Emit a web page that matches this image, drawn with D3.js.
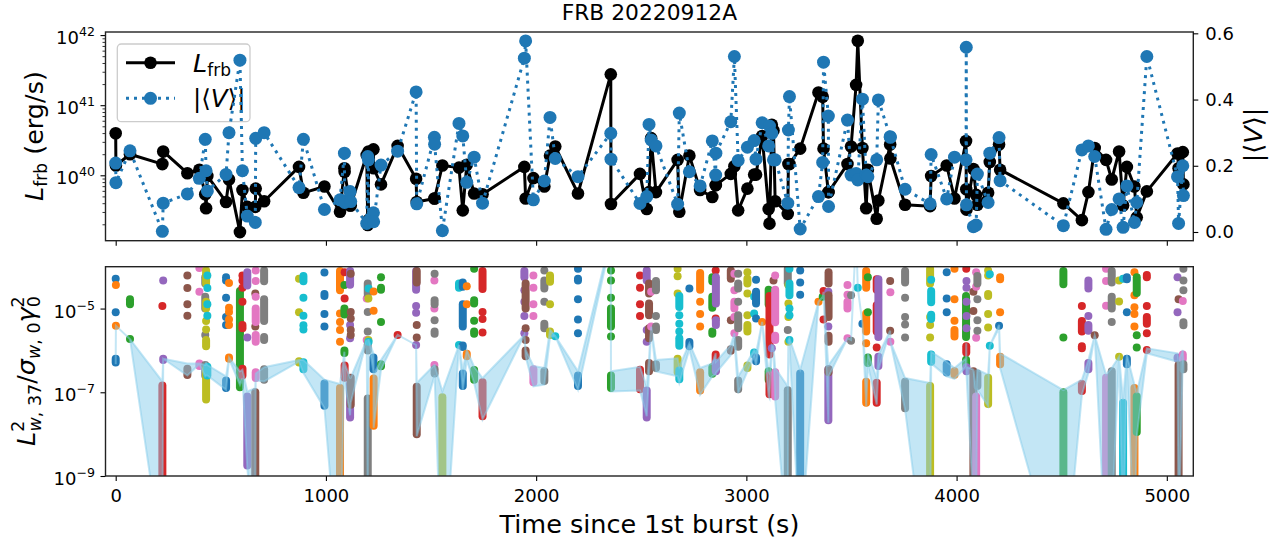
<!DOCTYPE html>
<html>
<head>
    <meta charset="utf-8">
    <title>FRB 20220912A</title>
    <script src="https://d3js.org/d3.v7.min.js"></script>
    <style>
        html, body { margin: 0; padding: 0; background: #fff; }
        svg { display: block; }
        text { font-family: "DejaVu Sans", sans-serif; fill: #000; }
        .tick text { font-size: 18px; }
        .tick line { stroke: #000; stroke-width: 1.1px; }
        .spine { fill: none; stroke: #222; stroke-width: 1.4px; }
    </style>
</head>
<body>
    <div id="chart"></div>

    <script>
        // one entry per burst, in time order (seconds since the first burst)
        const burstTimes = [
            0, 1, 68, 222, 226, 341, 398, 426, 430, 436,
            525, 539, 591, 603, 626, 664, 666, 706, 872, 893,
            993, 1067, 1088, 1089, 1115, 1118, 1194, 1199, 1202, 1203,
            1226, 1227, 1262, 1341, 1429, 1432, 1516, 1517, 1554, 1633,
            1651, 1670, 1705, 1745, 1944, 1950, 1987, 2039, 2066, 2091,
            2199, 2355, 2356, 2494, 2526, 2537, 2547, 2570, 2673, 2681,
            2729, 2780, 2838, 2854, 2855, 2926, 2943, 2961, 3005, 3037,
            3046, 3075, 3106, 3110, 3121, 3129, 3137, 3197, 3200, 3205,
            3256, 3343, 3363, 3367, 3390, 3391, 3481, 3498, 3522, 3530,
            3552, 3570, 3578, 3620, 3628, 3684, 3685, 3755, 3874, 3879,
            3953, 3990, 4045, 4046, 4047, 4080, 4093, 4099, 4150, 4158,
            4202, 4207, 4508, 4596, 4627, 4657, 4711, 4738, 4773, 4792,
            4810, 4846, 4857, 4905, 5051, 5056, 5076, 5079
        ];

        // log10 of L_frb in erg/s
        const logLfrb = [
            40.60, 40.14, 40.30, 40.16, 40.34, 40.03, 40.08, 39.73, 39.53, 39.99,
            39.62, 39.94, 39.19, 39.79, 39.55, 39.55, 39.81, 39.63, 40.12, 39.75,
            39.84, 39.48, 40.10, 40.05, 39.57, 39.57, 40.29, 39.29, 39.36, 40.34,
            40.37, 40.10, 39.87, 40.42, 39.95, 39.62, 39.67, 39.67, 40.14, 40.11,
            39.50, 40.15, 39.74, 39.73, 40.12, 39.67, 39.96, 39.84, 40.28, 40.41,
            39.74, 41.44, 39.59, 40.02, 39.52, 39.76, 40.53, 39.76, 40.22, 39.48,
            40.28, 39.79, 39.69, 39.86, 39.86, 40.02, 40.13, 39.50, 39.81, 40.01,
            40.01, 40.56, 39.52, 39.31, 40.72, 40.64, 39.63, 39.45, 40.16, 40.16,
            40.38, 41.18, 41.12, 40.38, 39.76, 39.76, 40.16, 40.41, 41.29, 41.92,
            40.39, 39.53, 40.08, 39.38, 39.64, 40.44, 40.24, 39.58, 39.56, 39.99,
            40.14, 39.67, 40.49, 39.80, 39.51, 40.09, 39.72, 39.58, 39.75, 40.19,
            40.44, 40.08, 39.60, 39.36, 39.76, 40.39, 40.22, 39.94, 40.34, 39.57,
            40.12, 39.84, 39.40, 39.77, 40.31, 40.10, 40.33, 39.87
        ];

        const absV = [
            .208, .149, .245, .002, .087, .115, .162, .280, .185, .124,
            .174, .300, .519, .185, .048, .029, .283, .300, .134, .280,
            .068, .097, .238, .089, .122, .092, .026, .228, .218, .033,
            .058, .031, .202, .244, .423, .085, .286, .265, .004, .328,
            .290, .150, .226, .087, .525, .577, .097, .154, .346, .222,
            .167, .298, .220, .086, .107, .325, .278, .260, .084, .359,
            .182, .139, .275, .172, .238, .333, .530, .216, .256, .276,
            .220, .330, .260, .320, .298, .218, .218, .087, .308, .409,
            .009, .107, .210, .513, .350, .077, .338, .172, .177, .157,
            .401, .172, .167, .218, .399, .288, .286, .129, .085, .234,
            .100, .226, .218, .558, .082, .016, .021, .175, .089, .238,
            .285, .155, .019, .248, .260, .228, .008, .068, .100, .014,
            .139, .029, .089, .530, .167, .026, .200, .110
        ];

        // log10 of L^2/sigma gamma^2 per burst: a number is one dot, a pair is a dense run of dots
        const burstLevels = [
            [-4.29, -5.09, [-6.20, -6.29]],
            [-4.44, -5.41],
            [[-4.78, -4.90], -5.73],
            [-4.94, [-6.84, -9.5]],
            [-4.33, [-6.20, -6.23]],
            [-4.21, -4.51, -4.90, -5.17, [-6.44, -6.59]],
            [-4.03, -4.60, [-6.31, -6.37]],
            [[-4.25, -4.40], [-4.72, -5.00], -5.63, [-6.35, -6.60]],
            [[-4.09, -4.40], [-4.84, -5.00], -5.30, -5.50, [-5.75, -5.90], [-6.45, -7.17]],
            [-4.21, -4.51, -4.90, -5.17, [-6.39, -6.60]],
            [-4.25, -4.33, -4.74, -5.20, -5.39, [-6.72, -6.90]],
            [-4.39, -4.98, -5.08, -5.26, -5.39, [-6.17, -6.20]],
            [[-4.58, -6.88]],
            [-4.21, -4.33, -4.50, -4.84, [-5.39, -5.47], [-6.44, -6.60]],
            [[-4.13, -4.45], -5.69, [-7.10, -8.75]],
            [-4.64, -5.43, [-7.00, -9.5]],
            [-4.09, -4.34, -4.72, [-5.00, -5.32], [-5.63, -5.79], [-6.52, -6.66]],
            [[-4.09, -4.35], [-4.78, -5.30], [-5.68, -5.75], [-6.45, -6.70]],
            [-4.29, -5.09, [-6.26, -6.29]],
            [[-4.22, -4.35], -4.74, -5.17, -5.40, -5.50, [-6.28, -6.45]],
            [-4.14, [-4.65, -4.70], -5.13, -5.43, [-6.79, -7.32]],
            [[-4.10, -4.56], -5.12, -5.32, -5.51, -5.79, [-6.90, -9.5]],
            [-4.44, [-5.00, -5.14], [-6.00, -6.06]],
            [-4.13, -4.76, [-6.36, -6.65]],
            [[-4.10, -4.43], -5.39, -5.71, [-6.80, -7.60]],
            [-4.17, -5.08, -5.24, -5.51, -5.63, [-6.65, -7.30]],
            [-4.76, -5.75],
            [[-4.40, -4.65], -5.08, -5.55, [-5.85, -6.00], [-7.15, -9.5]],
            [-4.76, -5.75],
            [-4.52, -5.79],
            [[-6.17, -6.45]],
            [-4.59, -5.05, [-6.67, -7.80]],
            [-4.25, [-4.50, -4.55], -5.32, [-6.33, -6.38]],
            [-5.63],
            [[-4.10, -4.55], -4.94, -5.10, -5.87],
            [[-4.10, -4.38], -5.39, -5.69, [-6.87, -8.00]],
            [-4.33, -5.00, -6.35],
            [-4.17, [-4.80, -4.90], -5.28, [-5.55, -5.60], [-6.45, -6.55]],
            [[-7.12, -9.5]],
            [[-4.40, -4.50], -5.87],
            [[-4.38, -4.48], [-4.90, -5.43], [-5.88, -5.92], [-6.55, -6.85]],
            [-4.47, -4.90, [-6.08, -6.14]],
            [-4.05, [-4.80, -4.88], -5.29, [-5.55, -5.60], [-6.47, -6.70]],
            [[-4.10, -4.53], -5.08, -5.25, -5.57, [-6.76, -7.57]],
            [[-4.10, -4.25], -4.56, -4.84, -5.18, -5.59],
            [[-4.40, -5.00], -5.47, -5.75, [-6.00, -6.14]],
            [-4.21, -4.50, -4.90, -5.18, [-6.45, -6.76]],
            [-4.09, [-4.33, -4.52], -4.84, [-5.36, -5.47], [-6.50, -6.73]],
            [[-4.21, -4.36], -4.90, [-5.55, -5.63]],
            [-5.66],
            [-4.05, -4.29, -4.33, -4.78, -5.26, -5.59, [-6.60, -6.85]],
            [],
            [-4.09, -4.33, -4.74, [-5.00, -5.43], -5.67, [-6.60, -6.90]],
            [-4.21, -4.50, -4.90, -5.18, [-6.46, -6.93]],
            [[-4.09, -4.33], -5.51, -5.79, [-6.96, -7.60]],
            [[-4.40, -4.64], [-4.88, -5.16], [-5.47, -5.71], [-6.30, -6.50]],
            [-4.60, -5.43],
            [[-4.34, -4.56], -5.18, [-5.43, -5.51], [-6.33, -6.42]],
            [-4.05, -4.23, -4.64, [-6.20, -6.52]],
            [[-4.70, -4.96], -5.16, -5.36, -5.55, [-5.71, -5.89], [-6.48, -6.69]],
            [-4.52, [-5.80, -5.90]],
            [[-4.15, -4.55], -4.84, -5.13, -5.43, [-6.52, -6.96]],
            [[-4.25, -4.35], [-4.72, -4.98], [-5.55, -5.60], [-6.40, -6.56]],
            [-4.09, -5.24, [-6.10, -6.48]],
            [[-4.25, -4.88], [-5.28, -5.39], [-6.30, -6.50]],
            [[-4.09, -4.29], -5.28, [-5.97, -6.01]],
            [-4.17, -4.56, [-4.84, -5.00], -5.20, -5.59],
            [-4.17, [-4.40, -4.52], -4.84, [-5.16, -5.47], [-5.75, -5.91], [-6.72, -6.93]],
            [-4.13, [-4.29, -4.40], -4.64, -5.16, [-5.39, -5.55], [-6.36, -6.42]],
            [-4.72, -5.12, [-6.05, -6.10]],
            [-4.31, [-4.60, -4.88], -5.24, [-6.17, -6.26]],
            [-5.32],
            [[-4.55, -4.90], [-6.50, -6.70]],
            [[-4.70, -6.10], [-6.60, -7.05]],
            [-5.95],
            [-4.33],
            [-4.21, [-4.55, -5.33], [-5.65, -5.75], [-6.52, -7.10]],
            [[-4.05, -4.40], -5.51, [-6.95, -9.5]],
            [-4.44, -4.88, -5.20, -5.79],
            [-4.05, [-4.40, -4.68], -5.00, -5.16, -5.75],
            [-4.09, -4.38, -4.67, [-6.55, -9.5]],
            [-4.84],
            [-4.72],
            [-4.58, -5.26],
            [-4.60, -5.43, [-6.45, -7.67]],
            [[-4.13, -4.40], [-4.68, -5.20], [-5.65, -5.79], [-6.45, -6.52]],
            [-4.44, -4.67, [-4.84, -5.00], -5.71],
            [-4.68, -5.77],
            [],
            [-4.50],
            [-5.36],
            [[-4.10, -4.50], [-5.12, -5.55], -5.83, [-6.75, -7.25]],
            [-4.25, -5.09, [-6.17, -6.30]],
            [[-4.30, -4.55], [-4.92, -5.55], -5.93, [-6.77, -7.25]],
            [[-4.30, -5.68], [-6.15, -6.37]],
            [-4.34, -5.53],
            [-4.61, -5.79],
            [[-4.10, -4.38], -4.74, -5.20, -5.38, -5.69, [-6.75, -7.38]],
            [[-4.05, -4.40], -5.20, -5.39, -5.69, [-6.85, -9.5]],
            [-4.31, [-4.58, -4.85], [-5.15, -5.25], [-6.10, -6.27]],
            [-4.13, -4.76, -5.09, [-6.33, -6.53]],
            [-4.05, -4.78, -5.29, [-5.51, -5.67], [-6.50, -6.58]],
            [[-4.70, -5.68], [-6.22, -6.35]],
            [-4.05, [-5.90, -6.05]],
            [-4.34, -4.50, -4.84, -5.18, -5.47, [-6.40, -6.50]],
            [-4.60, -5.06, [-6.50, -9.5]],
            [-4.13, -4.48, -5.70, [-7.10, -9.5]],
            [[-4.22, -4.40], -4.78, -5.28, -5.53, [-6.55, -6.85]],
            [-4.09, -4.21, [-4.65, -4.70], -5.13, -5.45, [-6.65, -7.28]],
            [-4.18, -5.89],
            [-5.41],
            [[-4.25, -4.30], -5.09, [-6.15, -6.33]],
            [[-4.10, -4.42], -5.69, [-7.00, -9.5]],
            [-4.94, [-5.30, -5.55], [-5.90, -5.95], [-6.80, -6.97]],
            [[-4.33, -4.52], -5.18, [-5.39, -5.53], [-6.30, -6.45]],
            [-5.64],
            [-4.05, -4.34, -4.93, [-6.65, -9.5]],
            [[-4.10, -4.38], [-4.72, -5.00], -5.32, [-6.50, -9.5]],
            [-4.33, -4.83, -6.15],
            [-4.29, [-7.25, -9.5]],
            [[-4.25, -4.30], -5.09, [-6.20, -6.33]],
            [-4.13, -4.68, -4.97, -5.13, -5.43, [-6.90, -9.5]],
            [[-4.25, -4.63], -5.64, -5.93, [-7.10, -7.95]],
            [[-4.20, -4.25], -4.94, [-5.20, -5.36], -5.59, -5.99],
            [-4.25, -5.09, [-6.17, -6.20]],
            [-4.78, [-6.35, -9.5]],
            [-4.82, [-6.10, -6.20]],
            [-4.05, -4.33, -4.56, [-5.33, -5.40], [-6.33, -6.45]]
        ];

        // upper and lower edge of the shaded band, log10
        const bandHigh = [
            -6.25, -5.41, -5.73, -6.74, -6.20, -6.31, -6.31, -6.35, -6.30, -6.35,
            -6.62, -6.17, -6.50, -6.46, -6.98, -6.90, -6.55, -6.40, -6.23, -6.23,
            -6.70, -6.80, -6.03, -6.30, -6.65, -6.65, -5.75, -7.10, -5.75, -5.75,
            -6.07, -6.58, -6.23, -5.63, -5.87, -6.78, -6.35, -6.35, -6.98, -5.87,
            -6.46, -5.99, -6.39, -6.66, -5.63, -5.99, -6.37, -6.42, -5.51, -5.66,
            -6.50, -3.30, -6.50, -6.39, -6.86, -6.19, -5.43, -6.23, -6.19, -6.39,
            -5.83, -6.42, -6.31, -6.07, -6.27, -5.87, -5.59, -6.62, -6.27, -5.99,
            -6.07, -5.32, -6.50, -6.54, -5.87, -5.90, -6.42, -6.86, -5.75, -5.71,
            -6.46, -4.84, -4.72, -4.60, -6.39, -6.35, -5.71, -5.75, -3.20, -4.50,
            -5.36, -6.66, -6.07, -6.66, -6.11, -5.53, -5.79, -6.66, -6.78, -6.03,
            -6.27, -6.42, -6.19, -5.83, -6.39, -6.46, -7.02, -6.46, -6.58, -5.89,
            -5.39, -6.07, -6.95, -6.70, -6.23, -5.64, -6.58, -6.42, -6.15, -7.18,
            -6.11, -6.82, -7.02, -5.95, -6.07, -6.27, -5.99, -6.23
        ];
        const bandLow = [
            -6.33, -5.41, -5.73, -11.0, -6.20, -6.60, -6.33, -6.62, -6.60, -6.60,
            -6.94, -6.20, -6.82, -6.66, -8.80, -11.0, -6.72, -6.74, -6.27, -6.54,
            -7.38, -11.8, -6.07, -6.74, -7.55, -7.25, -5.75, -9.80, -5.75, -5.80,
            -6.50, -7.85, -6.46, -5.63, -5.87, -8.05, -6.62, -6.62, -12.0, -5.87,
            -6.94, -6.23, -6.78, -7.65, -5.63, -6.15, -6.86, -6.82, -5.67, -5.66,
            -6.94, -3.40, -6.98, -6.96, -7.57, -6.58, -5.47, -6.50, -6.62, -6.78,
            -5.97, -7.06, -6.62, -6.58, -6.54, -6.11, -5.75, -7.02, -6.50, -6.15,
            -6.35, -5.32, -7.10, -7.14, -5.99, -6.00, -7.18, -10.7, -5.79, -5.87,
            -10.8, -4.84, -4.72, -4.60, -7.73, -6.62, -5.71, -5.75, -3.20, -4.50,
            -5.36, -7.33, -6.35, -7.29, -6.46, -5.53, -5.79, -7.41, -12.1, -6.31,
            -6.62, -6.68, -6.39, -6.11, -6.54, -9.80, -9.80, -6.94, -7.33, -5.89,
            -5.47, -6.42, -11.8, -7.06, -6.54, -5.64, -11.0, -10.0, -6.15, -10.5,
            -6.42, -10.5, -8.05, -6.07, -6.27, -10.5, -6.23, -6.54
        ];

        const topTicksL = [40, 41, 42];
        const minorTicksL = [39.301, 39.477, 39.602, 39.699, 39.778, 39.845, 39.903, 39.954,
            40.301, 40.477, 40.602, 40.699, 40.778, 40.845, 40.903, 40.954,
            41.301, 41.477, 41.602, 41.699, 41.778, 41.845, 41.903, 41.954];
        const ticksV = [0, 0.2, 0.4, 0.6];
        const ticksT = [0, 1000, 2000, 3000, 4000, 5000];
        const ticksBottom = [-9, -7, -5];

        // panel frames, in page pixels
        const width = 1279, height = 542;
        const left = 105.5, right = 1193.3;
        const topPanel = { y0: 32, y1: 240.7 };
        const botPanel = { y0: 266.7, y1: 476 };

        const svg = d3.select("#chart").append("svg")
            .attr("width", width)
            .attr("height", height);

        const x = d3.scaleLinear().domain([-48.5, 5126]).range([left, right]);
        const yL = d3.scaleLog().domain([Math.pow(10, 39.067), Math.pow(10, 42.044)]).range([topPanel.y1, topPanel.y0]);
        const yV = d3.scaleLinear().domain([-0.0263, 0.604]).range([topPanel.y1, topPanel.y0]);
        const yB = d3.scaleLog().domain([1e-9, 1e-4]).range([botPanel.y1, botPanel.y0]);

        const color = d3.scaleOrdinal().domain(d3.range(10)).range(d3.schemeCategory10);
        const bandColor = "#87ceeb";
        const blue = "#1f77b4";

        const pow = v => Math.pow(10, v);
        const burstIds = d3.range(burstTimes.length);

        svg.append("defs").append("clipPath").attr("id", "botClip")
            .append("rect")
            .attr("x", left).attr("y", botPanel.y0)
            .attr("width", right - left).attr("height", botPanel.y1 - botPanel.y0);

        // power-of-ten label: base plus raised exponent
        function powerLabel(sel, exp) {
            sel.text(null).attr("text-anchor", "end");
            sel.append("tspan").text("10");
            sel.append("tspan").attr("dy", -8).style("font-size", "12.6px").text(exp);
        }

        // ---- top panel, left axis ----
        const lineL = d3.line().x(i => x(burstTimes[i])).y(i => yL(pow(logLfrb[i])));
        const gLine = svg.append("g");
        gLine.append("path")
            .attr("d", lineL(burstIds))
            .attr("fill", "none").attr("stroke", "#000").attr("stroke-width", 3)
            .attr("stroke-linejoin", "round");
        gLine.selectAll("circle").data(burstIds).enter().append("circle")
            .attr("cx", i => x(burstTimes[i]))
            .attr("cy", i => yL(pow(logLfrb[i])))
            .attr("r", 6.3)
            .attr("fill", "#000");

        svg.append("g").attr("transform", `translate(0,${topPanel.y1})`)
            .call(d3.axisBottom(x).tickValues(ticksT).tickSize(5).tickFormat(""))
            .call(g => g.select(".domain").remove());

        const leftAxis = svg.append("g").attr("transform", `translate(${left},0)`)
            .call(d3.axisLeft(yL).tickValues(topTicksL.map(pow)).tickSize(5).tickPadding(5.5));
        leftAxis.select(".domain").remove();
        leftAxis.selectAll(".tick text").each(function(d) {
            d3.select(this).attr("dy", "0.47em").call(powerLabel, String(Math.round(Math.log10(d))));
        });
        const leftMinor = svg.append("g").attr("transform", `translate(${left},0)`)
            .call(d3.axisLeft(yL).tickValues(minorTicksL.map(pow)).tickSize(3).tickFormat(""));
        leftMinor.select(".domain").remove();
        leftMinor.selectAll(".tick line").style("stroke-width", "0.8px");

        svg.append("rect").attr("class", "spine")
            .attr("x", left).attr("y", topPanel.y0)
            .attr("width", right - left).attr("height", topPanel.y1 - topPanel.y0);

        // ---- legend sits between the two top series ----
        const legend = svg.append("g");
        legend.append("rect")
            .attr("x", 117.3).attr("y", 44).attr("width", 132.7).attr("height", 77.7).attr("rx", 4)
            .attr("fill", "#fff").attr("fill-opacity", 0.8)
            .attr("stroke", "#ccc").attr("stroke-width", 1.3);
        legend.append("line").attr("x1", 126).attr("x2", 175).attr("y1", 62.7).attr("y2", 62.7)
            .attr("stroke", "#000").attr("stroke-width", 3);
        legend.append("circle").attr("cx", 150.5).attr("cy", 62.7).attr("r", 6.3).attr("fill", "#000");
        legend.append("line").attr("x1", 126).attr("x2", 175).attr("y1", 98.3).attr("y2", 98.3)
            .attr("stroke", blue).attr("stroke-width", 3).attr("stroke-dasharray", "3,5");
        legend.append("circle").attr("cx", 150.5).attr("cy", 98.3).attr("r", 6.5).attr("fill", blue);

        const legendL = legend.append("text").attr("x", 193).attr("y", 72).style("font-size", "25.5px");
        legendL.append("tspan").style("font-style", "italic").text("L");
        legendL.append("tspan").attr("dy", 4).style("font-size", "17px").text("frb");
        const legendV = legend.append("text").attr("x", 193).attr("y", 107).style("font-size", "24.5px");
        legendV.append("tspan").text("|⟨");
        legendV.append("tspan").style("font-style", "italic").text("V");
        legendV.append("tspan").text("⟩|");

        // ---- top panel, right axis ----
        const lineV = d3.line().x(i => x(burstTimes[i])).y(i => yV(absV[i]));
        const gV = svg.append("g");
        gV.append("path")
            .attr("d", lineV(burstIds))
            .attr("fill", "none").attr("stroke", blue).attr("stroke-width", 3)
            .attr("stroke-dasharray", "3,5");
        gV.selectAll("circle").data(burstIds).enter().append("circle")
            .attr("cx", i => x(burstTimes[i]))
            .attr("cy", i => yV(absV[i]))
            .attr("r", 6.5)
            .attr("fill", blue);

        const rightAxis = svg.append("g").attr("transform", `translate(${right},0)`)
            .call(d3.axisRight(yV).tickValues(ticksV).tickSize(5).tickPadding(7).tickFormat(d3.format(".1f")));
        rightAxis.select(".domain").remove();

        // ---- bottom panel ----
        const gBot = svg.append("g").attr("clip-path", "url(#botClip)");
        burstIds.forEach(i => {
            const c = color(i % 10);
            burstLevels[i].forEach(v => {
                if (Array.isArray(v)) {
                    gBot.append("line")
                        .attr("x1", x(burstTimes[i])).attr("x2", x(burstTimes[i]))
                        .attr("y1", yB(pow(v[0]))).attr("y2", yB(pow(v[1])))
                        .attr("stroke", c).attr("stroke-width", 8).attr("stroke-linecap", "round");
                } else {
                    gBot.append("circle")
                        .attr("cx", x(burstTimes[i])).attr("cy", yB(pow(v)))
                        .attr("r", 4).attr("fill", c);
                }
            });
        });

        const band = d3.area()
            .x(i => x(burstTimes[i]))
            .y0(i => yB(pow(bandLow[i])))
            .y1(i => yB(pow(bandHigh[i])));
        gBot.append("path")
            .attr("d", band(burstIds))
            .attr("fill", bandColor).attr("fill-opacity", 0.5)
            .attr("stroke", bandColor).attr("stroke-opacity", 0.5).attr("stroke-width", 2);

        const xAxis = svg.append("g").attr("transform", `translate(0,${botPanel.y1})`)
            .call(d3.axisBottom(x).tickValues(ticksT).tickSize(5).tickPadding(8.5).tickFormat(d3.format("d")));
        xAxis.select(".domain").remove();

        const botAxis = svg.append("g").attr("transform", `translate(${left},0)`)
            .call(d3.axisLeft(yB).tickValues(ticksBottom.map(pow)).tickSize(5).tickPadding(5.5));
        botAxis.select(".domain").remove();
        botAxis.selectAll(".tick text").each(function(d) {
            d3.select(this).attr("dy", "0.47em").call(powerLabel, "\u2212" + Math.abs(Math.round(Math.log10(d))));
        });

        svg.append("rect").attr("class", "spine")
            .attr("x", left).attr("y", botPanel.y0)
            .attr("width", right - left).attr("height", botPanel.y1 - botPanel.y0);

        // ---- titles and axis labels ----
        svg.append("text")
            .attr("x", 649.4).attr("y", 20)
            .attr("text-anchor", "middle").style("font-size", "21.8px")
            .text("FRB 20220912A");

        svg.append("text")
            .attr("x", 649.4).attr("y", 533)
            .attr("text-anchor", "middle").style("font-size", "25.5px")
            .text("Time since 1st burst (s)");

        const labelL = svg.append("text")
            .attr("transform", "translate(43,136) rotate(-90)")
            .attr("text-anchor", "middle").style("font-size", "25.5px");
        labelL.append("tspan").style("font-style", "italic").text("L");
        labelL.append("tspan").attr("dy", 4).style("font-size", "17px").text("frb");
        labelL.append("tspan").attr("dy", -4).text(" (erg/s)");

        const labelV = svg.append("text")
            .attr("transform", "translate(1262,135) rotate(-90)")
            .attr("text-anchor", "middle").style("font-size", "25.5px");
        labelV.append("tspan").text("|⟨");
        labelV.append("tspan").style("font-style", "italic").text("V");
        labelV.append("tspan").text("⟩|");

        // stacked sub and superscripts, so the text is placed piece by piece
        const labelB = svg.append("text")
            .attr("transform", "translate(35,371) rotate(-90)")
            .attr("text-anchor", "middle").style("font-size", "25.5px");
        labelB.append("tspan").style("font-style", "italic").text("L");
        labelB.append("tspan").attr("dy", -11).style("font-size", "17.5px").text("2");
        labelB.append("tspan").attr("dx", -11).attr("dy", 17).style("font-size", "17.5px").style("font-style", "italic").text("w");
        labelB.append("tspan").style("font-size", "17.5px").text(", 37");
        labelB.append("tspan").attr("dy", -6).text("/");
        labelB.append("tspan").style("font-style", "italic").text("σ");
        labelB.append("tspan").attr("dy", 5).style("font-size", "17.5px").style("font-style", "italic").text("w");
        labelB.append("tspan").style("font-size", "17.5px").text(", 0");
        labelB.append("tspan").attr("dy", -5).style("font-style", "italic").text("γ");
        labelB.append("tspan").attr("dy", -11).style("font-size", "17.5px").text("2");
        labelB.append("tspan").attr("dx", -11).attr("dy", 16).style("font-size", "17.5px").text("0");
    </script>
</body>
</html>
